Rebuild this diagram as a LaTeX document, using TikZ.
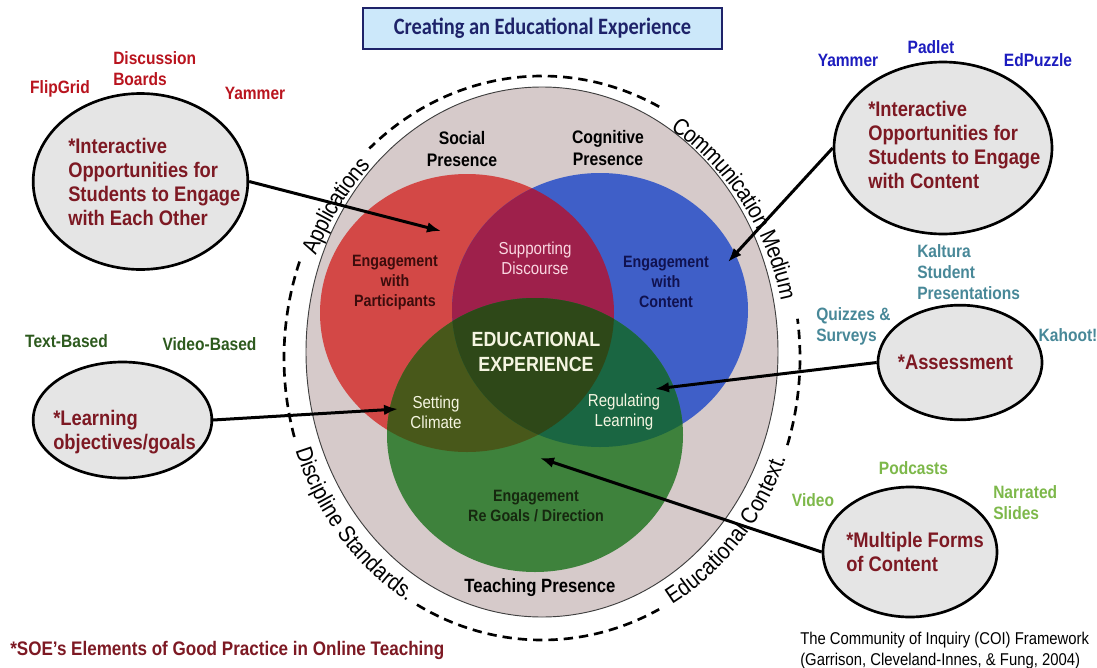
\documentclass[tikz,border=0pt]{standalone}
\usepackage{fontspec}
\setmainfont{Liberation Sans}[FakeStretch=0.87]
\newfontfamily\titlefont{Carlito}[FakeStretch=0.87]
\usetikzlibrary{shapes.geometric,arrows.meta,decorations.text,calc}

\definecolor{ringgray}{RGB}{214,202,202}
\definecolor{cred}{RGB}{211,72,70}
\definecolor{cblue}{RGB}{63,95,200}
\definecolor{cgreen}{RGB}{62,130,60}
\definecolor{cpurple}{RGB}{158,32,75}
\definecolor{colive}{RGB}{72,88,26}
\definecolor{cteal}{RGB}{26,102,66}
\definecolor{ccenter}{RGB}{46,72,24}
\definecolor{bubfill}{RGB}{229,229,229}
\definecolor{bubtext}{RGB}{125,25,35}
\definecolor{labred}{RGB}{185,20,30}
\definecolor{labblue}{RGB}{28,28,190}
\definecolor{labteal}{RGB}{72,136,152}
\definecolor{labdkgreen}{RGB}{45,90,30}
\definecolor{labltgreen}{RGB}{125,184,74}
\definecolor{titlefill}{RGB}{204,232,250}
\definecolor{titlenavy}{RGB}{30,35,105}
\definecolor{partxt}{RGB}{60,12,12}
\definecolor{contxt}{RGB}{16,18,80}
\definecolor{cream}{RGB}{245,245,225}
\definecolor{pinktxt}{RGB}{250,215,225}
\definecolor{goaltxt}{RGB}{22,40,15}

\newcommand\ringfont{\fontsize{17.5}{20}\selectfont}

\begin{document}
\begin{tikzpicture}[x=0.75pt,y=0.75pt,
  bubble/.style={ellipse, draw=black, line width=2pt, fill=bubfill, inner sep=0pt},
  btxt/.style={font=\bfseries\fontsize{15.8}{18}\selectfont, text=bubtext, align=left, inner sep=0pt},
  lab/.style={font=\bfseries\fontsize{13.4}{15.75}\selectfont, inner sep=0pt, align=left},
  intxt/.style={font=\bfseries\fontsize{12.3}{15}\selectfont, inner sep=0pt, align=center},
  lighttxt/.style={font=\fontsize{13}{15}\selectfont, inner sep=0pt, align=center},
  arr/.style={line width=2.25pt, -{Latex[length=10.5pt,width=8pt]}},
  ringdash/.style={line width=2pt, dash pattern=on 7pt off 4.5pt},
  ringtop/.style={decorate, decoration={text along path, text align=center, raise=-10pt}},
  ringbot/.style={decorate, decoration={text along path, text align=center, raise=-2pt}},
]
\useasboundingbox (0,0) rectangle (1097,-668);

% title
\node[draw=titlenavy, line width=1.2pt, fill=titlefill, minimum width=269.25pt, minimum height=30.75pt,
      font=\titlefont\bfseries\fontsize{17.6}{20}\selectfont, text=titlenavy] (title) at (542.5,-28.5)
      {Creating an Educational Experience};

% gray background ellipse
\filldraw[fill=ringgray, draw=black!75, line width=0.7pt] (542,-352) ellipse[x radius=236, y radius=265];

% the three presences
\fill[cred]   (467,-313) ellipse[x radius=147, y radius=139];
\fill[cblue]  (600,-310) ellipse[x radius=148, y radius=137];
\fill[cgreen] (535,-435) ellipse[x radius=148, y radius=137];
\begin{scope}
  \clip (467,-313) ellipse[x radius=147, y radius=139];
  \fill[cpurple] (600,-310) ellipse[x radius=148, y radius=137];
  \fill[colive]  (535,-435) ellipse[x radius=148, y radius=137];
\end{scope}
\begin{scope}
  \clip (600,-310) ellipse[x radius=148, y radius=137];
  \fill[cteal] (535,-435) ellipse[x radius=148, y radius=137];
\end{scope}
\begin{scope}
  \clip (467,-313) ellipse[x radius=147, y radius=139];
  \clip (600,-310) ellipse[x radius=148, y radius=137];
  \fill[ccenter] (535,-435) ellipse[x radius=148, y radius=137];
\end{scope}

% dashed ring (center (542,-358), rx 258, ry 282)
\draw[ringdash] ($(542,-358)+(63:258 and 282)$) arc[start angle=63, end angle=132, x radius=258, y radius=282];
\draw[ringdash] ($(542,-358)+(-18:258 and 282)$) arc[start angle=-18, end angle=8, x radius=258, y radius=282];
\draw[ringdash] ($(542,-358)+(241:258 and 282)$) arc[start angle=241, end angle=297, x radius=258, y radius=282];
\draw[ringdash] ($(542,-358)+(160:258 and 282)$) arc[start angle=160, end angle=197, x radius=258, y radius=282];

\path[ringtop, decoration={text={|\ringfont|Applications}}]
  ($(542,-358)+(162:258 and 282)$) arc[start angle=162, end angle=130, x radius=258, y radius=282];
\path[ringtop, decoration={text={|\ringfont|Communication Medium}}]
  ($(542,-358)+(65:258 and 282)$) arc[start angle=65, end angle=6, x radius=258, y radius=282];
\path[ringbot, decoration={text={|\ringfont|Educational Context.}}]
  ($(542,-358)+(-64:258 and 282)$) arc[start angle=-64, end angle=-17, x radius=258, y radius=282];
\path[ringbot, decoration={text={|\ringfont|Discipline Standards.}}]
  ($(542,-358)+(196:258 and 282)$) arc[start angle=196, end angle=242, x radius=258, y radius=282];

% inner texts
\node[intxt, font=\bfseries\fontsize{13.6}{16.5}\selectfont] (sp) at (462,-149) {Social\\Presence};
\node[intxt, font=\bfseries\fontsize{13.6}{16.5}\selectfont] (cp) at (608,-148.5) {Cognitive\\Presence};
\node[intxt, text=partxt] (ewp) at (395,-282.5) {Engagement\\with\\Participants};
\node[lighttxt, text=pinktxt] (sd) at (535,-258) {Supporting\\Discourse};
\node[intxt, text=contxt] (ewc) at (666,-282) {Engagement\\with\\Content};
\node[intxt, text=cream, font=\bfseries\fontsize{15.4}{18.5}\selectfont] (ee) at (536,-352) {EDUCATIONAL\\EXPERIENCE};
\node[lighttxt, text=cream] (sc) at (436,-412) {Setting\\Climate};
\node[lighttxt, text=cream] (rl) at (624,-412) {Regulating\\Learning};
\node[intxt, text=goaltxt] (erg) at (536,-506) {Engagement\\Re Goals / Direction};
\node[intxt, font=\bfseries\fontsize{14.4}{16}\selectfont] (tp) at (540,-588) {Teaching Presence};

% arrow targets
\coordinate (tA) at (441,-231);
\coordinate (tB) at (728,-262);
\coordinate (tC) at (655,-389);
\coordinate (tD) at (398,-409);
\coordinate (tE) at (540,-458);

% bubbles
\node[bubble, minimum width=161pt, minimum height=132pt] (bA) at (140.5,-181.5) {};
\node[btxt, anchor=west] (xA) at (68,-182) {*Interactive\\Opportunities for\\Students to Engage\\with Each Other};
\node[bubble, minimum width=163.5pt, minimum height=129pt] (bB) at (943,-148) {};
\node[btxt, anchor=west] (xB) at (868,-145) {*Interactive\\Opportunities for\\Students to Engage\\with Content};
\node[bubble, minimum width=123pt, minimum height=86pt] (bC) at (960,-362.5) {};
\node[btxt] (xC) at (955.5,-362) {*Assessment};
\node[bubble, minimum width=134pt, minimum height=87pt] (bD) at (122.5,-420) {};
\node[btxt, anchor=west] (xD) at (53,-432) {*Learning\\objectives/goals};
\node[bubble, minimum width=130.5pt, minimum height=97.5pt] (bE) at (910,-552) {};
\node[btxt, anchor=west] (xE) at (846,-551.5) {*Multiple Forms\\of Content};

% arrows
\draw[arr] (bA.east) -- (tA);
\draw[arr] (bB.west) -- (tB);
\draw[arr] (bC.west) -- (tC);
\draw[arr] (bD.east) -- (tD);
\draw[arr] (bE.west) -- (tE);

% tool labels
\node[lab, text=labred] (l1) at (60,-89) {FlipGrid};
\node[lab, text=labred, anchor=west] (l2) at (113,-68.5) {Discussion\\Boards};
\node[lab, text=labred] (l3) at (255,-93) {Yammer};
\node[lab, text=labblue] (l4) at (848,-60) {Yammer};
\node[lab, text=labblue] (l5) at (931,-47) {Padlet};
\node[lab, text=labblue] (l6) at (1038,-60) {EdPuzzle};
\node[lab, text=labteal, anchor=west] (l7) at (917,-272) {Kaltura\\Student\\Presentations};
\node[lab, text=labteal, anchor=west] (l8) at (816,-326) {Quizzes \&\\Surveys};
\node[lab, text=labteal] (l9) at (1068,-335) {Kahoot!};
\node[lab, text=labdkgreen] (l10) at (66.5,-341) {Text-Based};
\node[lab, text=labdkgreen] (l11) at (209.5,-344) {Video-Based};
\node[lab, text=labltgreen] (l12) at (913.5,-468) {Podcasts};
\node[lab, text=labltgreen] (l13) at (813,-500) {Video};
\node[lab, text=labltgreen, anchor=west] (l14) at (993,-502.5) {Narrated\\Slides};

% footnotes
\node[inner sep=0pt, anchor=west, text=bubtext, font=\bfseries\fontsize{14.7}{17}\selectfont] (soe) at (10,-650)
  {*SOE’s Elements of Good Practice in Online Teaching};
\node[inner sep=0pt, anchor=west, align=left, font=\fontsize{12.8}{15.75}\selectfont] (coi) at (800,-650.5)
  {The Community of Inquiry (COI) Framework\\(Garrison, Cleveland-Innes, \& Fung, 2004)};
\end{tikzpicture}
\end{document}
